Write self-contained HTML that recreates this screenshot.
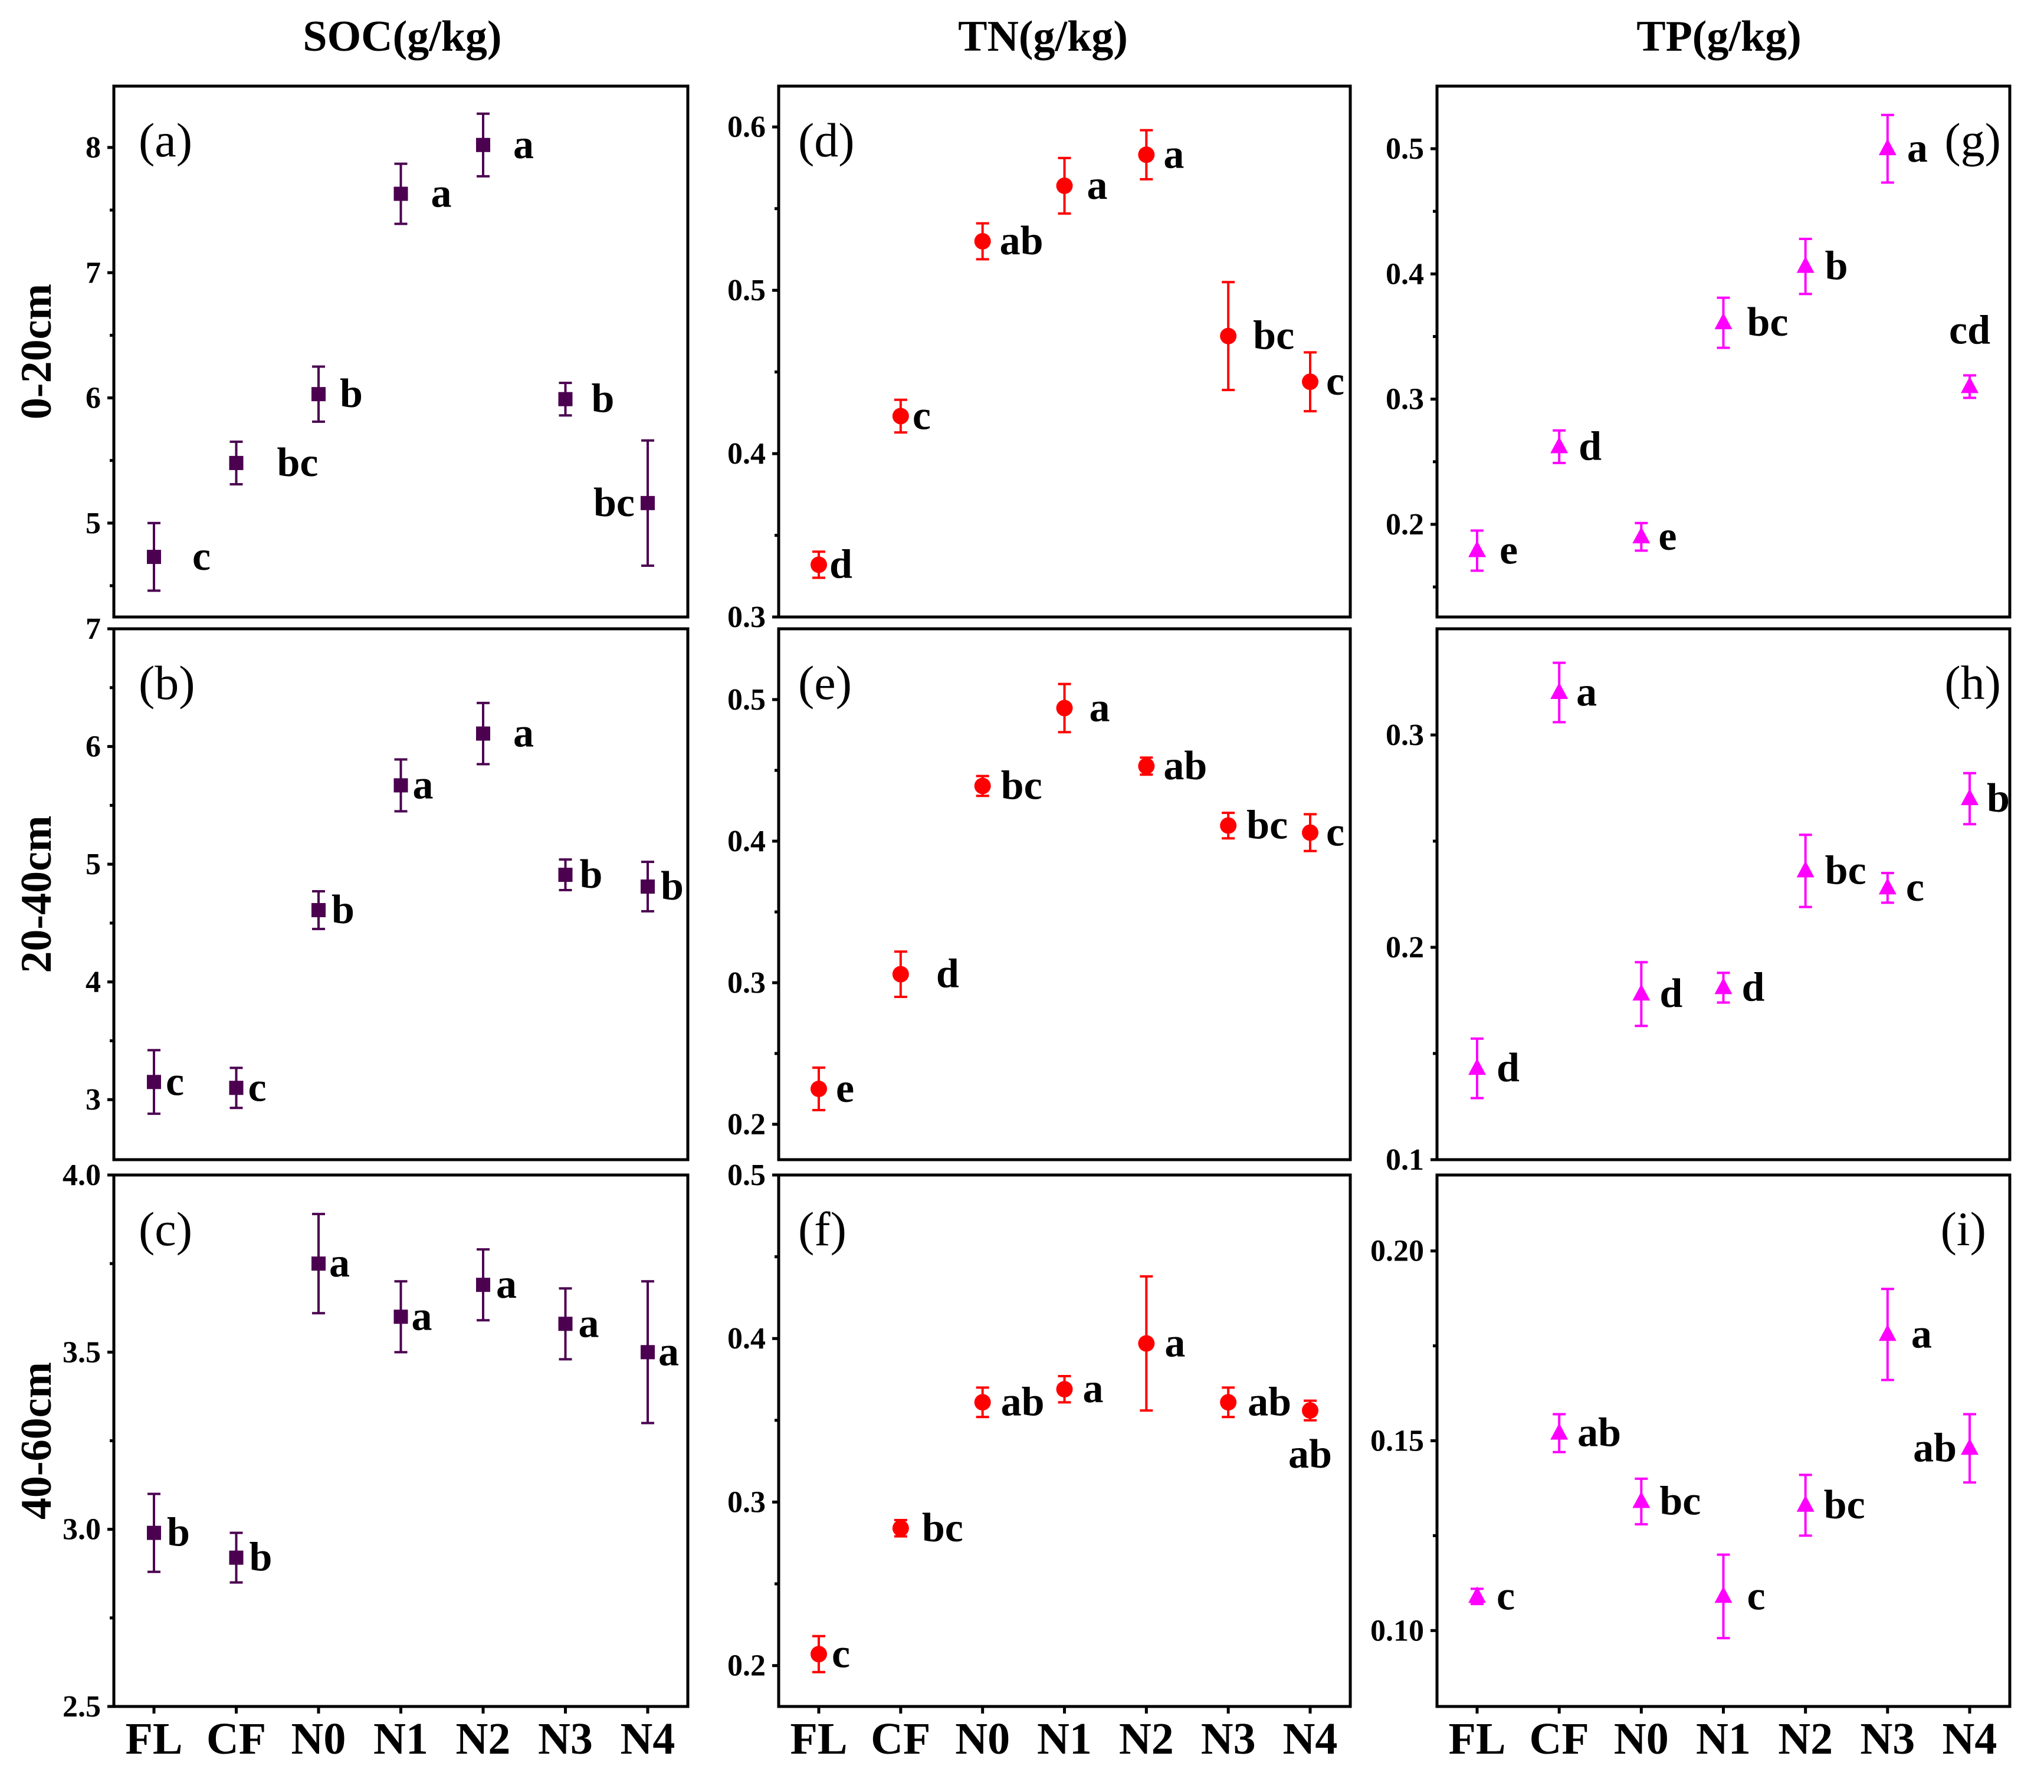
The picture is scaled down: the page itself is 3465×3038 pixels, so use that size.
<!DOCTYPE html>
<html><head><meta charset="utf-8"><style>
html,body{margin:0;padding:0;background:#fff;}
svg, svg text{font-family:"Liberation Serif","Times New Roman",serif;}
svg{display:block;}
</style></head><body>
<svg id="fig" width="3465" height="3038" viewBox="0 0 3465 3038" xmlns="http://www.w3.org/2000/svg" font-family="Liberation Serif, Times New Roman, serif"></svg>
<script>
// ---- data ----
const categories = ["FL","CF","N0","N1","N2","N3","N4"];
const colTitles = ["SOC(g/kg)","TN(g/kg)","TP(g/kg)"];
const rowTitles = ["0-20cm","20-40cm","40-60cm"];
const panelIds = ["a","b","c","d","e","f","g","h","i"];
const means_a = [4.73,5.48,6.03,7.63,8.02,5.99,5.16];
const errs_a  = [0.27,0.17,0.22,0.24,0.25,0.13,0.50];
const means_b = [3.15,3.10,4.61,5.67,6.11,4.91,4.81];
const errs_b  = [0.27,0.17,0.16,0.22,0.26,0.13,0.21];
const means_c = [2.99,2.92,3.75,3.60,3.69,3.58,3.50];
const errs_c  = [0.11,0.07,0.14,0.10,0.10,0.10,0.20];
const means_d = [0.332,0.423,0.530,0.564,0.583,0.472,0.444];
const errs_d  = [0.008,0.010,0.011,0.017,0.015,0.033,0.018];
const means_e = [0.225,0.306,0.439,0.494,0.453,0.411,0.406];
const errs_e  = [0.015,0.016,0.007,0.017,0.006,0.009,0.013];
const means_f = [0.207,0.284,0.361,0.369,0.397,0.361,0.356];
const errs_f  = [0.011,0.005,0.009,0.008,0.041,0.009,0.006];
const means_g = [0.179,0.262,0.190,0.361,0.406,0.500,0.310];
const errs_g  = [0.016,0.013,0.011,0.020,0.022,0.027,0.009];
const means_h = [0.143,0.320,0.178,0.181,0.236,0.228,0.270];
const errs_h  = [0.014,0.014,0.015,0.007,0.017,0.007,0.012];
const means_i = [0.109,0.152,0.134,0.109,0.133,0.178,0.148];
const errs_i  = [0.002,0.005,0.006,0.011,0.008,0.012,0.009];
const letters_a = ["c","bc","b","a","a","b","bc"];
const letters_b = ["c","c","b","a","a","b","b"];
const letters_c = ["b","b","a","a","a","a","a"];
const letters_d = ["d","c","ab","a","a","bc","c"];
const letters_e = ["e","d","bc","a","ab","bc","c"];
const letters_f = ["c","bc","ab","a","a","ab","ab"];
const letters_g = ["e","d","e","bc","b","a","cd"];
const letters_h = ["d","a","d","d","bc","c","b"];
const letters_i = ["c","ab","bc","c","bc","a","ab"];
const ticks_a = [5,6,7,8], ticks_b=[3,4,5,6,7], ticks_c=[2.5,3.0,3.5,4.0];
const ticks_d = [0.3,0.4,0.5,0.6], ticks_e=[0.2,0.3,0.4,0.5], ticks_f=[0.2,0.3,0.4,0.5];
const ticks_g = [0.2,0.3,0.4,0.5], ticks_h=[0.1,0.2,0.3], ticks_i=[0.10,0.15,0.20];
const tickLabels_c = ["2.5","3.0","3.5","4.0"];
const tickLabels_i = ["0.10","0.15","0.20"];
const domains = {a:[4.25,8.49],b:[2.49,7],c:[2.5,4.0],d:[0.3,0.625],e:[0.175,0.55],f:[0.175,0.5],g:[0.126,0.55],h:[0.1,0.35],i:[0.08,0.22]};
const minorStep = {a:0.5,b:0.5,c:0.25,d:0.05,e:0.05,f:0.05,g:0.05,h:0.05,i:0.025};

// ---- layout ----
const FONT="Liberation Serif, Times New Roman, serif";
const cols=[[193,1166],[1320,2289],[2436,3407]];
const rows=[[146,1046],[1066,1966],[1992,2893]];
const colors=["#4b0050","#ff0000","#ff00ff"];
const shapes=["square","circle","triangle"];
const DATA={a:[means_a,errs_a,letters_a,ticks_a],b:[means_b,errs_b,letters_b,ticks_b],c:[means_c,errs_c,letters_c,ticks_c],
 d:[means_d,errs_d,letters_d,ticks_d],e:[means_e,errs_e,letters_e,ticks_e],f:[means_f,errs_f,letters_f,ticks_f],
 g:[means_g,errs_g,letters_g,ticks_g],h:[means_h,errs_h,letters_h,ticks_h],i:[means_i,errs_i,letters_i,ticks_i]};
const labDx={a:[65,69,36,51,51,44,-22],b:[20,20,22,20,51,24,22],c:[22,22,18,18,22,22,18],
 d:[18,20,29,38,29,42,27],e:[29,60,31,42,29,31,27],f:[22,36,31,31,31,33,0],
 g:[38,33,29,40,33,33,0],h:[33,29,31,31,33,31,29],i:[33,31,31,40,31,40,-22]};
const labDy={f:[0,0,0,0,0,0,75],g:[0,0,0,0,0,0,-95]};

const NS="http://www.w3.org/2000/svg";
const svg=document.getElementById('fig');
function mk(tag,attrs,parent){const e=document.createElementNS(NS,tag);for(const k in attrs)e.setAttribute(k,attrs[k]);if(tag==='text')e.setAttribute('font-family',FONT);(parent||svg).appendChild(e);return e;}
function fmt(v,id){const d=(id==='a'||id==='b')?0:(id==='c'?1:(id==='i'?2:1));return v.toFixed(d);}

colTitles.forEach((t,ci)=>{
  const cx=[682,1768,2914][ci];
  const el=mk('text',{x:cx,y:86,'text-anchor':'middle','font-size':74,'font-weight':'bold'});
  el.textContent=t;
  
  
});
rowTitles.forEach((t,ri)=>{
  const cy=(rows[ri][0]+rows[ri][1])/2;
  const el=mk('text',{x:0,y:0,transform:`translate(86,${cy}) rotate(-90)`,'text-anchor':'middle','font-size':74,'font-weight':'bold'});
  el.textContent=t;
  
  
});

panelIds.forEach((id,pi)=>{
  const ci=Math.floor(pi/3), ri=pi%3;
  const [L,R]=cols[ci], [T,B]=rows[ri];
  const [means,errs,lets,ticks]=DATA[id];
  const [d0,d1]=domains[id];
  const y=v=>B-(v-d0)/(d1-d0)*(B-T);
  const x=i=>L+68+i*(R-L-136)/6;
  const g=mk('g',{});
  
  
  const fr=mk('rect',{x:L,y:T,width:R-L,height:B-T,fill:'none',stroke:'#000','stroke-width':5},g);
  
  
  const labs=id==='c'?tickLabels_c:(id==='i'?tickLabels_i:null);
  ticks.forEach((tv,k)=>{
    const ty=y(tv);
    mk('line',{x1:L-11,x2:L,y1:ty,y2:ty,stroke:'#000','stroke-width':5},g);
    const tl=mk('text',{x:L-22,y:ty+17,'text-anchor':'end','font-size':52,'font-weight':'bold'},g);
    tl.textContent=labs?labs[k]:fmt(tv,id);
    
    
  });
  const st=minorStep[id];
  for(let v=Math.ceil(d0/st-1e-6)*st; v<=d1+1e-9; v+=st){
    if(ticks.some(t=>Math.abs(t-v)<1e-6))continue;
    const ty=y(v); if(ty<T+3||ty>B-3)continue;
    mk('line',{x1:L-7,x2:L,y1:ty,y2:ty,stroke:'#000','stroke-width':5},g);
  }
  if(ri===2){
    categories.forEach((c,i)=>{
      mk('line',{x1:x(i),x2:x(i),y1:B,y2:B+12,stroke:'#000','stroke-width':5},g);
      const cl=mk('text',{x:x(i),y:B+80,'text-anchor':'middle','font-size':76,'font-weight':'bold'},g);
      cl.textContent=c;
      
      
    });
  }
  const right=ci===2;
  const plx=right?(id==='i'?R-40:R-15):(ci===0?L+42:L+33);
  const pl=mk('text',{x:plx,y:T+119,'text-anchor':right?'end':'start','font-size':82},g);
  pl.textContent='('+id+')';
  
  
  const col=colors[ci];
  means.forEach((m,i)=>{
    const cx=x(i), cy=y(m), e=errs[i];
    const eb=mk('g',{stroke:col,'stroke-width':4},g);
    
    
    mk('line',{x1:cx,x2:cx,y1:y(m+e),y2:y(m-e)},eb);
    mk('line',{x1:cx-11,x2:cx+11,y1:y(m+e),y2:y(m+e)},eb);
    mk('line',{x1:cx-11,x2:cx+11,y1:y(m-e),y2:y(m-e)},eb);
    let pt;
    if(shapes[ci]==='square') pt=mk('rect',{x:cx-12,y:cy-12,width:24,height:24,fill:col},g);
    else if(shapes[ci]==='circle') pt=mk('circle',{cx:cx,cy:cy,r:14,fill:col},g);
    else pt=mk('polygon',{points:`${cx},${cy-17} ${cx+15},${cy+11} ${cx-15},${cy+11}`,fill:col},g);
    
    
    const dx=labDx[id][i], dy=(labDy[id]||[])[i]||0;
    const anchor=dx<0?'end':(dx===0?'middle':'start');
    const lt=mk('text',{x:cx+dx,y:cy+dy+22,'text-anchor':anchor,'font-size':70,'font-weight':'bold'},g);
    lt.textContent=lets[i];
    
    
  });
});
</script>
</body></html>
